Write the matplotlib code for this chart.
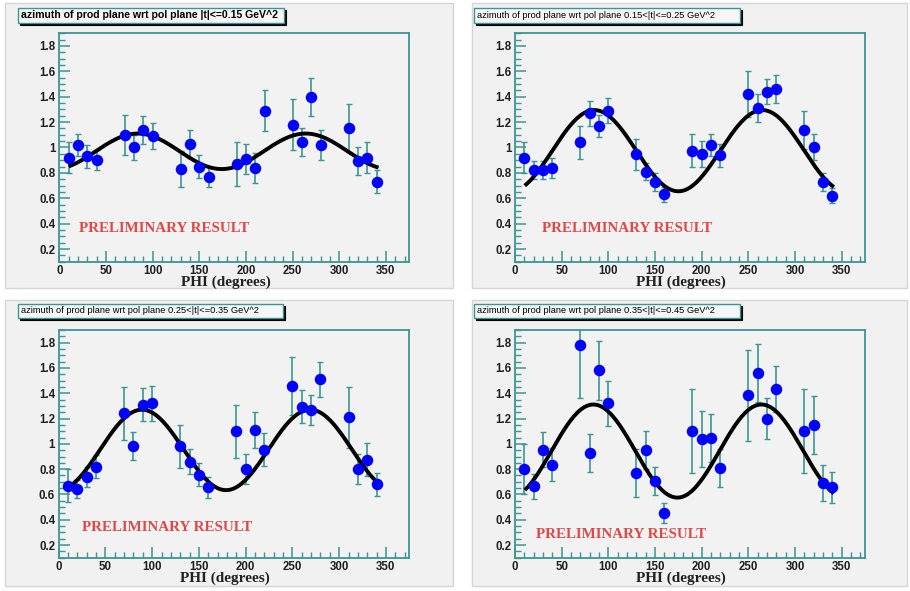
import numpy as np
import matplotlib
matplotlib.use('Agg')
import matplotlib.pyplot as plt
from matplotlib.patches import Rectangle
from matplotlib.ticker import MultipleLocator, FuncFormatter

# phi bins (degrees)
phi = [10, 20, 30, 40, 70, 80, 90, 100, 130, 140, 150, 160,
       190, 200, 210, 220, 250, 260, 270, 280, 310, 320, 330, 340]

# |t| <= 0.15
y1 = [0.92, 1.02, 0.93, 0.90, 1.10, 1.00, 1.14, 1.09, 0.83, 1.03, 0.85, 0.77,
      0.87, 0.91, 0.84, 1.29, 1.18, 1.04, 1.40, 1.02, 1.155, 0.89, 0.92, 0.73]
e1 = [0.12, 0.09, 0.09, 0.08, 0.16, 0.10, 0.11, 0.10, 0.14, 0.11, 0.09, 0.08,
      0.17, 0.12, 0.12, 0.16, 0.20, 0.11, 0.15, 0.12, 0.19, 0.11, 0.12, 0.09]

# 0.15 < |t| <= 0.25
y2 = [0.92, 0.82, 0.82, 0.84, 1.04, 1.27, 1.17, 1.29, 0.945, 0.81, 0.73, 0.63,
      0.975, 0.95, 1.02, 0.94, 1.42, 1.31, 1.44, 1.46, 1.14, 1.005, 0.73, 0.62]
e2 = [0.12, 0.07, 0.07, 0.08, 0.13, 0.10, 0.09, 0.10, 0.12, 0.07, 0.07, 0.06,
      0.13, 0.10, 0.09, 0.09, 0.18, 0.11, 0.10, 0.11, 0.15, 0.10, 0.07, 0.06]

# 0.25 < |t| <= 0.35
y3 = [0.67, 0.645, 0.74, 0.82, 1.24, 0.98, 1.31, 1.32, 0.98, 0.86, 0.755, 0.655,
      1.10, 0.80, 1.11, 0.955, 1.46, 1.295, 1.27, 1.51, 1.21, 0.80, 0.875, 0.68]
e3 = [0.13, 0.07, 0.08, 0.09, 0.21, 0.11, 0.13, 0.14, 0.17, 0.10, 0.09, 0.08,
      0.21, 0.12, 0.14, 0.13, 0.23, 0.13, 0.12, 0.14, 0.24, 0.12, 0.13, 0.09]

# 0.35 < |t| <= 0.45
y4 = [0.80, 0.665, 0.955, 0.835, 1.78, 0.93, 1.58, 1.32, 0.77, 0.95, 0.705, 0.455,
      1.10, 1.04, 1.045, 0.81, 1.385, 1.56, 1.20, 1.435, 1.10, 1.15, 0.69, 0.655]
e4 = [0.20, 0.10, 0.14, 0.13, 0.42, 0.15, 0.23, 0.18, 0.19, 0.15, 0.11, 0.08,
      0.33, 0.22, 0.19, 0.15, 0.36, 0.23, 0.16, 0.18, 0.33, 0.23, 0.14, 0.12]

# fit: p0 + p1*cos(2*(phi - p2))
fit1 = [0.97, 0.14, 84]
fit2 = [0.975, 0.32, 85]
fit3 = [0.952, 0.318, 89]
fit4 = [0.943, 0.368, 84]

titles = ['azimuth of prod plane wrt pol plane |t|<=0.15 GeV^2',
          'azimuth of prod plane wrt pol plane 0.15<|t|<=0.25 GeV^2',
          'azimuth of prod plane wrt pol plane 0.25<|t|<=0.35 GeV^2',
          'azimuth of prod plane wrt pol plane 0.35<|t|<=0.45 GeV^2']
prelim_pos = [(21, 0.365), (29, 0.358), (25, 0.34), (23, 0.28)]

W, H = 910, 591
fig = plt.figure(figsize=(W / 100, H / 100), dpi=100)
fig.patch.set_facecolor('white')

teal = '#3a9692'


def fx(px):
    return px / W


def fy(py):
    return 1 - py / H


# pad frames (pixel coords: left, top, right, bottom)
pads = [(5, 3, 453, 288), (472, 3, 907, 288), (5, 300, 453, 586), (472, 300, 907, 586)]
for l, t, r, b in pads:
    fig.patches.append(Rectangle((fx(l), fy(b)), fx(r - l), (b - t) / H,
                                 transform=fig.transFigure, facecolor='#f1f1f1',
                                 edgecolor='#d6d6d6', lw=1.0, zorder=-5))

axes_px = [(59.3, 33.3, 409.3, 261.7), (515, 33.3, 865, 261.7),
           (58.7, 330, 409.3, 557.7), (515, 330, 865, 557.7)]
title_px = [(18, 8, 284, 23), (474, 8, 740, 23), (18, 304, 283, 318), (474, 304, 740, 318)]

ys = [y1, y2, y3, y4]
es = [e1, e2, e3, e4]
fits = [fit1, fit2, fit3, fit4]

for i in range(4):
    l, t, r, b = axes_px[i]
    ax = fig.add_axes([fx(l), fy(b), fx(r - l), (b - t) / H])
    ax.set_zorder(1)
    ax.set_facecolor('#f2f2f2')
    ax.set_xlim(0, 375)
    ax.set_ylim(0.1, 1.9)

    ax.errorbar(phi, ys[i], yerr=es[i], fmt='none', ecolor=teal, elinewidth=1.2,
                capsize=2, capthick=1.0, zorder=2)
    ax.plot(phi, ys[i], 'o', color='#0000ff', markersize=8.3, markeredgewidth=0, zorder=4)

    p0, p1, p2 = fits[i]
    xf = np.linspace(12, 340, 300)
    ax.plot(xf, p0 + p1 * np.cos(np.radians(2 * (xf - p2))), color='black', lw=2.8, zorder=3)

    ax.text(prelim_pos[i][0], prelim_pos[i][1], 'PRELIMINARY RESULT', color='#e04848',
            fontsize=10.8, fontweight='bold', family='Liberation Serif', va='center')

    ax.xaxis.set_major_locator(MultipleLocator(50))
    ax.xaxis.set_minor_locator(MultipleLocator(10))
    ax.yaxis.set_major_locator(MultipleLocator(0.2))
    ax.yaxis.set_minor_locator(MultipleLocator(0.05))
    ax.yaxis.set_major_formatter(FuncFormatter(lambda v, p: '%g' % round(v, 2)))
    ax.tick_params(which='both', direction='in', color=teal, top=False, right=False)
    ax.tick_params(which='major', length=8, width=1.1, labelsize=8.3, pad=2.5)
    ax.tick_params(which='minor', length=4, width=1.0)
    for lab in ax.get_xticklabels() + ax.get_yticklabels():
        lab.set_fontweight('bold')
        lab.set_family('Liberation Sans')
        lab.set_color('#202020')
    for s in ax.spines.values():
        s.set_color(teal)
        s.set_linewidth(1.3)

    ax.text(178, 0.1, 'PHI (degrees)', ha='center', va='top', fontsize=11,
            fontweight='bold', family='Liberation Serif', color='#202020', clip_on=False,
            transform=ax.transData + matplotlib.transforms.ScaledTranslation(0, -14 / 100, fig.dpi_scale_trans))

    # title box
    tl, tt, tr, tb = title_px[i]
    fig.patches.append(Rectangle((fx(tl + 1.5), fy(tb + 1.5)), fx(tr - tl), (tb - tt) / H,
                                 transform=fig.transFigure, facecolor='black',
                                 edgecolor='black', lw=0.8, zorder=5))
    fig.patches.append(Rectangle((fx(tl), fy(tb)), fx(tr - tl), (tb - tt) / H,
                                 transform=fig.transFigure, facecolor='#f6f6f6',
                                 edgecolor=teal, lw=1.0, zorder=6))
    fig.text(fx(tl + 3), fy((tt + tb) / 2), titles[i], fontsize=7.6 if i == 0 else 6.7,
             fontweight='bold' if i == 0 else 'normal', family='Liberation Sans',
             va='center', ha='left', color='black', zorder=7)

fig.savefig('out.png', dpi=100)
